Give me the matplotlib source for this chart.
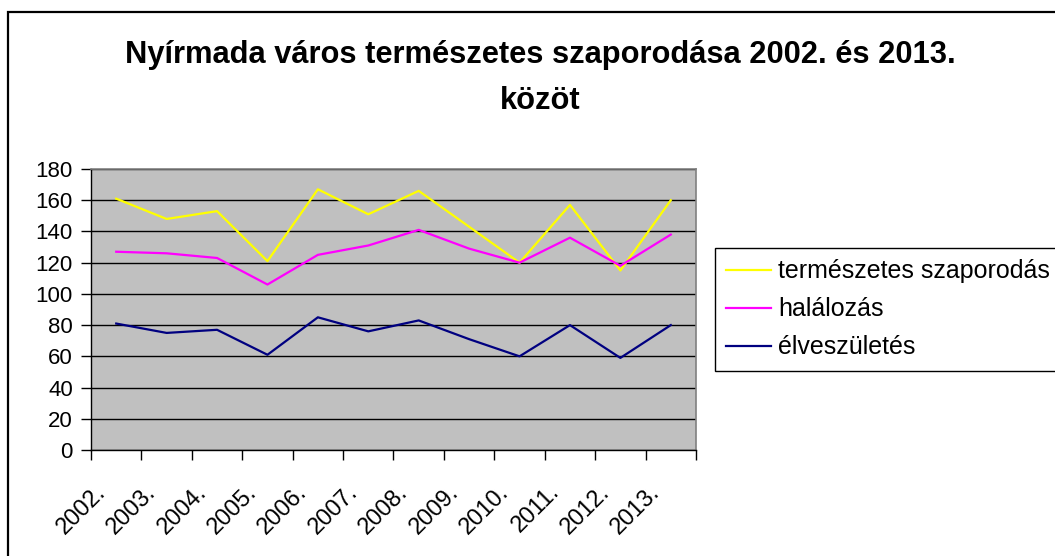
from matplotlib import pyplot as plt
from matplotlib.patches import Rectangle
from matplotlib.transforms import ScaledTranslation
import numpy as np

plt.rcParams['font.family'] = ['Liberation Sans', 'DejaVu Sans']

# data
years = ['2002.', '2003.', '2004.', '2005.', '2006.', '2007.',
         '2008.', '2009.', '2010.', '2011.', '2012.', '2013.']
termeszetes_szaporodas = [161, 148, 153, 121, 167, 151, 166, 143, 120, 157, 115, 160]
halalozas = [127, 126, 123, 106, 125, 131, 141, 129, 120, 136, 118, 138]
elveszuletes = [81, 75, 77, 61, 85, 76, 83, 71, 60, 80, 59, 80]
y_ticks = list(range(0, 181, 20))

W, H = 1055, 556
fig = plt.figure(figsize=(W / 100, H / 100), dpi=100)

# outer chart border (only top and left are visible)
fig.add_artist(Rectangle((8 / W, -0.2), 1.2, 1.2 - 12 / H, transform=fig.transFigure,
                         fill=False, edgecolor='black', linewidth=1.6, clip_on=False))

ax = fig.add_axes([91 / W, 1 - 450 / H, (696 - 91) / W, (450 - 169) / H])
ax.set_facecolor('#c0c0c0')

x = np.arange(len(years))
ax.plot(x, termeszetes_szaporodas, color='#ffff00', lw=1.6, label='természetes szaporodás')
ax.plot(x, halalozas, color='#ff00ff', lw=1.6, label='halálozás')
ax.plot(x, elveszuletes, color='#000080', lw=1.6, label='élveszületés')

ax.set_xlim(-0.5, len(years) - 0.5)
ax.set_ylim(0, 180)
ax.set_yticks(y_ticks)
ax.yaxis.grid(True, color='black', lw=1)
ax.set_axisbelow(True)

# ticks between categories, labels at centres
ax.set_xticks(np.arange(-0.5, len(years), 1.0))
ax.set_xticklabels([])
ax.set_xticks(x, minor=True)
ax.set_xticklabels(years, minor=True, rotation=45, ha='right', va='center',
                   rotation_mode='anchor', fontsize=17)
ax.tick_params(axis='x', which='minor', length=0, pad=22)
ax.tick_params(axis='x', which='major', length=7, width=1, direction='out')
ax.tick_params(axis='y', length=7, width=1, direction='out', labelsize=16, pad=6)
shift = ScaledTranslation(-14 / 100, -8 / 100, fig.dpi_scale_trans)
for lab in ax.get_xticklabels(minor=True):
    lab.set_transform(lab.get_transform() + shift)

for s in ['top', 'right']:
    ax.spines[s].set_color('#808080')
    ax.spines[s].set_linewidth(1.2)
for s in ['left', 'bottom']:
    ax.spines[s].set_color('black')
    ax.spines[s].set_linewidth(1)

fig.text(540 / W, 1 - 78 / H, 'Nyírmada város természetes szaporodása 2002. és 2013.\nközöt',
         ha='center', va='center', fontsize=22.2, fontweight='bold', linespacing=1.69)

leg = fig.legend(loc='upper left', bbox_to_anchor=(715 / W, 1 - 248 / H), fontsize=18,
                 frameon=True, fancybox=False, edgecolor='black', framealpha=1,
                 handlelength=1.8, handletextpad=0.28, borderpad=0.45, labelspacing=0.56,
                 borderaxespad=0)
leg.get_frame().set_linewidth(1)

plt.savefig('out.png', dpi=100)
